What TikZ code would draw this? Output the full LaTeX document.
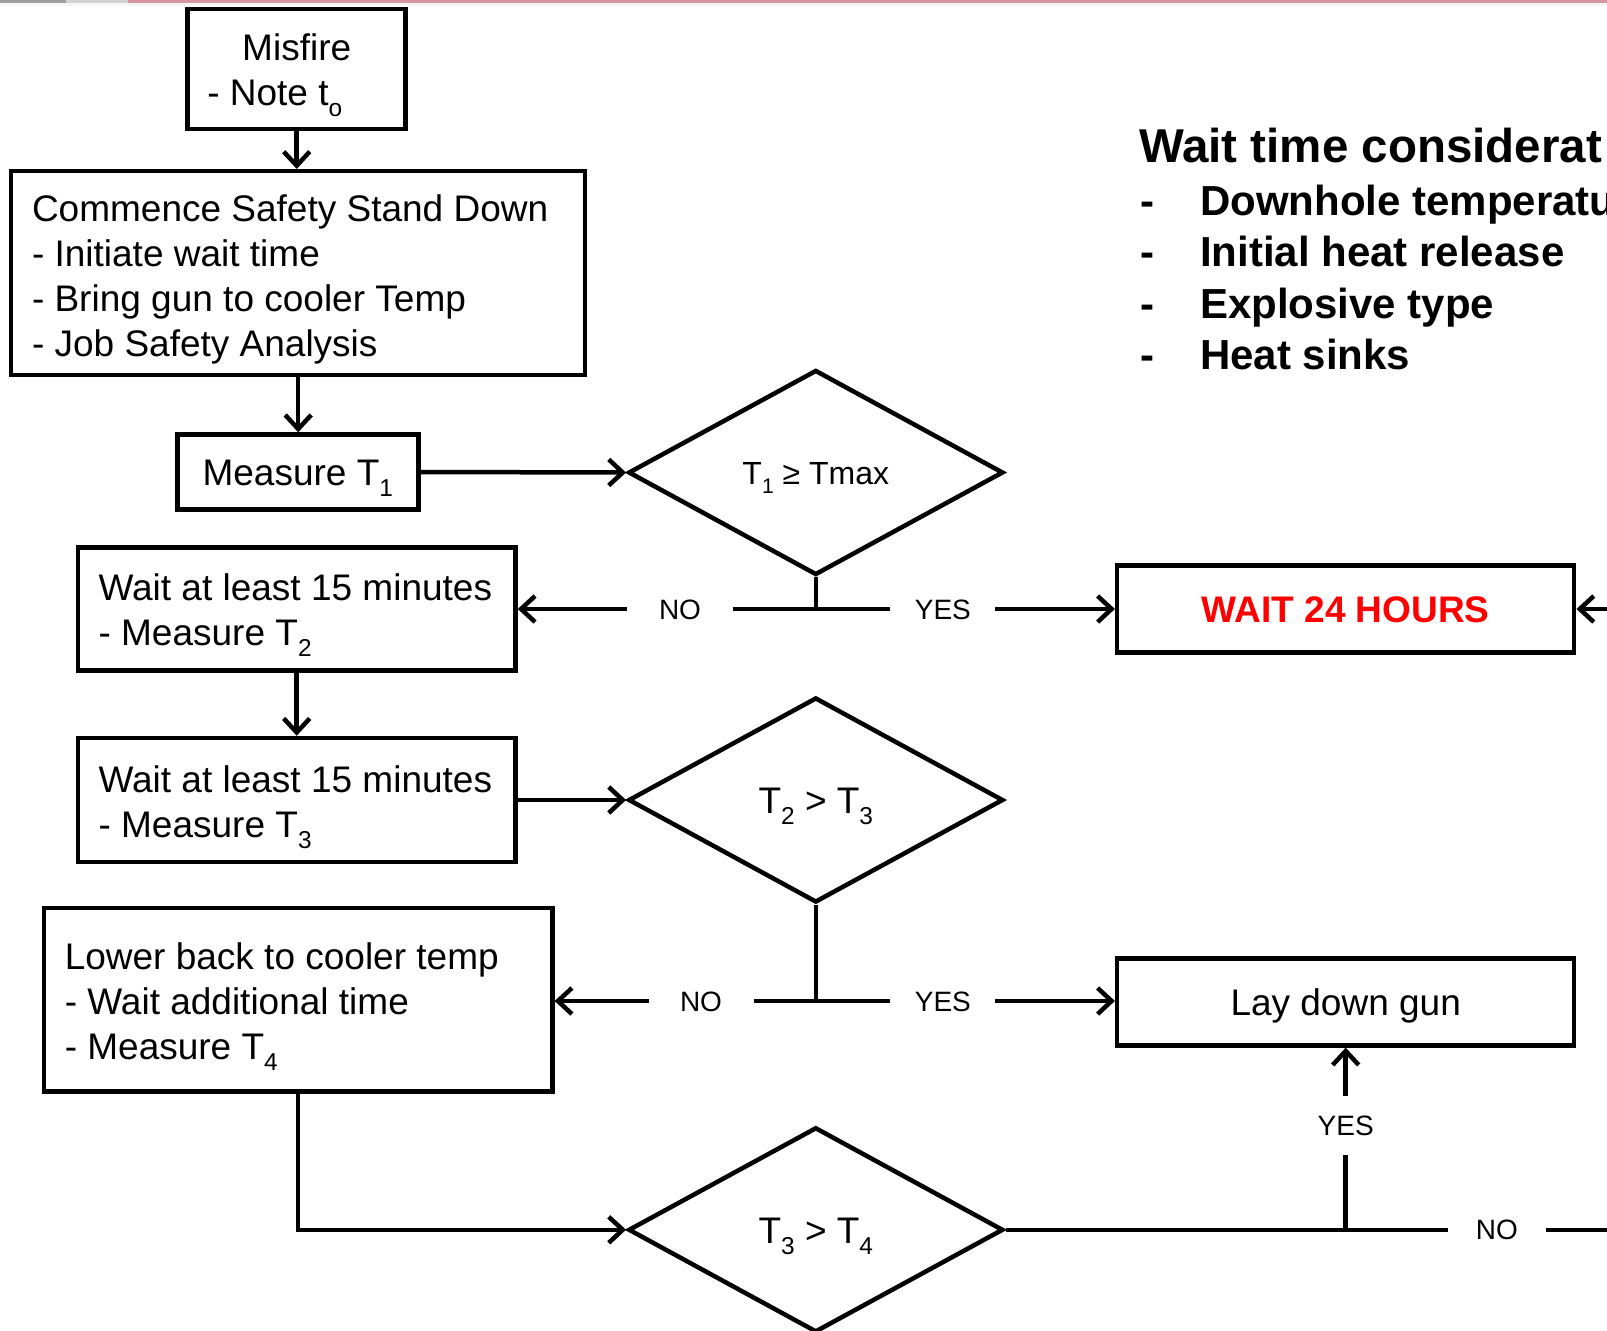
\documentclass[tikz,border=0pt]{standalone}
\usepackage{fontspec}
\setmainfont{Liberation Sans}
\usepackage{graphicx}
\usetikzlibrary{arrows.meta,shapes.geometric}
\newcommand\subs[1]{\raisebox{-0.3em}{\scalebox{0.66}{#1}}}
\newcommand\lftlines[1]{\vtop{\halign{##\hfil\cr#1\crcr}}}
\newcommand\ctrlines[1]{\vtop{\halign{\hfil##\hfil\cr#1\crcr}}}
\definecolor{topline}{RGB}{214,150,160}
\begin{document}
\begin{tikzpicture}[x=1pt,y=-1pt,
  box/.style={draw, line width=4.5pt, rectangle, inner sep=0pt,
    font=\fontsize{37}{45}\selectfont, text height=26.5pt, text depth=0pt},
  dia/.style={draw, line width=4.5pt, diamond, inner sep=0pt,
    minimum width=375pt, minimum height=205pt, text depth=0pt},
  txt/.style={inner sep=0pt, anchor=base west, font=\fontsize{37}{45}\selectfont},
  lab/.style={inner sep=0pt, font=\fontsize{28}{30}\selectfont,
    text height=20pt, text depth=0pt},
  conn/.style={line width=4.5pt},
  arr/.style={line width=4.5pt, -{Straight Barb[length=14pt,width=26pt]}},
]
\useasboundingbox (0,0) rectangle (1607,1331);
\clip (0,0) rectangle (1607,1331);

% thin top strip
\fill[gray!75] (0,0) rectangle (66,2.5);
\fill[gray!35] (66,0) rectangle (128,2.5);
\fill[topline] (128,0) rectangle (1607,2.5);
\fill[gray!8] (0,2.5) rectangle (1607,6);

% boxes
\node[box, minimum width=218pt, minimum height=120pt] (misfire) at (296.7,69.2) {};
\node[txt, anchor=base] (misfiret) at (296.7,60) {\ctrlines{Misfire\cr - Note t\subs{o}\hspace{44pt}}};

\node[box, minimum width=574pt, minimum height=204pt] (commence) at (298.2,273.2) {};
\node[txt] (commencet) at (31.8,221) {\lftlines{Commence Safety Stand Down\cr - Initiate wait time\cr - Bring gun to cooler Temp\cr - Job Safety Analysis}};

\node[box, minimum width=241pt, minimum height=75pt] (measure) at (297.8,472) {Measure T\subs{1}\hspace{10pt}};

\node[box, minimum width=437.6pt, minimum height=123pt] (wait1) at (296.7,609) {};
\node[txt] (wait1t) at (98.4,600) {\lftlines{Wait at least 15 minutes\cr - Measure T\subs{2}}};

\node[box, minimum width=457pt, minimum height=87pt, text=red,
  font=\fontsize{37}{45}\selectfont\bfseries] (wait24) at (1345.7,609) {WAIT 24 HOURS};

\node[box, minimum width=437.6pt, minimum height=124pt] (wait2) at (296.7,800) {};
\node[txt] (wait2t) at (98.4,792) {\lftlines{Wait at least 15 minutes\cr - Measure T\subs{3}}};

\node[box, minimum width=508.3pt, minimum height=183.5pt] (lower) at (298.2,999.8) {};
\node[txt] (lowert) at (64.6,969) {\lftlines{Lower back to cooler temp\cr - Wait additional time\cr - Measure T\subs{4}}};

\node[box, minimum width=457pt, minimum height=87pt] (laydown) at (1345.7,1001.9) {Lay down gun};

% diamonds
\node[dia, font=\fontsize{32}{36}\selectfont, text height=23pt] (d1) at (815.8,472.5) {T\subs{1} ≥ Tmax};
\node[dia, font=\fontsize{37}{40}\selectfont, text height=26.5pt] (d2) at (815.8,800) {T\subs{2} > T\subs{3}};
\node[dia, font=\fontsize{37}{40}\selectfont, text height=26.5pt] (d3) at (815.8,1229.8) {T\subs{3} > T\subs{4}};

% side text
\node[inner sep=0pt, anchor=base west, font=\fontsize{47.5}{50}\selectfont\bfseries] (title) at (1139,162) {Wait time considerat};
\node[inner sep=0pt, anchor=base west, font=\fontsize{42}{51.5}\selectfont\bfseries] (items) at (1140,215)
  {\lftlines{\makebox[60pt][l]{-}Downhole temperatu\cr \makebox[60pt][l]{-}Initial heat release\cr \makebox[60pt][l]{-}Explosive type\cr \makebox[60pt][l]{-}Heat sinks}};

% labels
\coordinate (j1) at (815.8,609);
\node[lab, minimum width=105.6pt] (no1) at (680,609) {NO};
\node[lab, minimum width=104.6pt] (yes1) at (942.9,609) {YES};
\coordinate (j2) at (815.8,1001);
\node[lab, minimum width=104.6pt] (no2) at (701,1001) {NO};
\node[lab, minimum width=104.6pt] (yes2) at (942.9,1001) {YES};
\coordinate (j3) at (1345.7,1229.8);
\node[lab, minimum width=97.3pt] (no3) at (1496.9,1229.8) {NO};
\node[lab, minimum width=60pt, minimum height=58.4pt] (yes3) at (1345.7,1125.8) {YES};
\coordinate (e1) at (1625,609);
\coordinate (e3) at (1625,1229.8);

% connectors
\draw[arr] (misfire.south) -- (misfire.south |- commence.north);
\draw[arr] (commence.south) -- (commence.south |- measure.north);
\draw[arr] (measure.east) -- (d1.west);
\draw[conn] (d1.south) -- (j1);
\draw[conn] (j1) -- (no1);
\draw[arr] (no1) -- (wait1.east);
\draw[conn] (j1) -- (yes1);
\draw[arr] (yes1) -- (wait24.west);
\draw[arr] (e1) -- (wait24.east);
\draw[arr] (wait1.south) -- (wait2.north);
\draw[arr] (wait2.east) -- (d2.west);
\draw[conn] (d2.south) -- (j2);
\draw[conn] (j2) -- (no2);
\draw[arr] (no2) -- (no2 -| lower.east);
\draw[conn] (j2) -- (yes2);
\draw[arr] (yes2) -- (yes2 -| laydown.west);
\draw[arr] (lower.south) |- (d3.west);
\draw[conn] (d3.east) -- (no3);
\draw[conn] (no3) -- (e3);
\draw[conn] (j3) -- (yes3);
\draw[arr] (yes3) -- (laydown.south);
\end{tikzpicture}
\end{document}
